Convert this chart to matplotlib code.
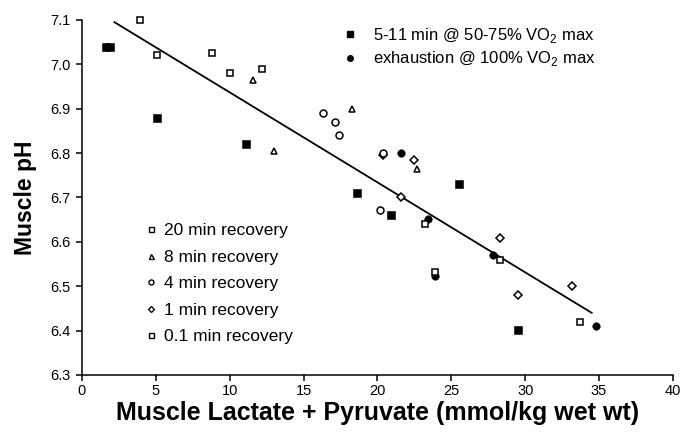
import matplotlib
matplotlib.use("Agg")
import matplotlib.pyplot as plt
from matplotlib.lines import Line2D

plt.rcParams['font.family'] = ['Liberation Sans', 'DejaVu Sans']
plt.rcParams['mathtext.fontset'] = 'custom'
plt.rcParams['mathtext.rm'] = 'Liberation Sans'

# Exercise groups (filled markers)
sub_x = [1.6, 1.9, 5.1, 11.1, 18.6, 20.9, 25.5, 29.5]
sub_y = [7.038, 7.040, 6.880, 6.820, 6.711, 6.660, 6.730, 6.401]
exh_x = [21.6, 23.4, 23.9, 27.8, 34.8]
exh_y = [6.800, 6.651, 6.522, 6.571, 6.410]

# Recovery groups (open markers)
rec20_x = [3.9, 5.1, 8.8, 10.0, 12.2]
rec20_y = [7.099, 7.020, 7.025, 6.980, 6.990]
rec8_x = [11.6, 13.0, 18.3, 22.7]
rec8_y = [6.964, 6.805, 6.900, 6.764]
rec4_x = [16.3, 17.1, 17.4, 20.4, 20.2]
rec4_y = [6.890, 6.869, 6.841, 6.800, 6.671]
rec1_x = [20.4, 22.5, 21.6, 28.3, 29.5, 33.2]
rec1_y = [6.796, 6.785, 6.700, 6.609, 6.480, 6.501]
rec01_x = [23.2, 23.9, 28.3, 33.7]
rec01_y = [6.640, 6.531, 6.560, 6.420]

# Regression line end points
fit_x = [2.2, 34.5]
fit_y = [7.095, 6.440]

x_ticks = [0, 5, 10, 15, 20, 25, 30, 35, 40]
y_ticks = [6.3, 6.4, 6.5, 6.6, 6.7, 6.8, 6.9, 7.0, 7.1]

fig = plt.figure(figsize=(6.83, 4.33), dpi=100)
ax = fig.add_axes([0.12, 0.134, 0.8653, 0.8199])

ax.plot(fit_x, fit_y, color='black', lw=1.3, zorder=2)

open_kw = dict(ls='none', mfc='white', mec='black', mew=1.1, zorder=3, clip_on=False)
fill_kw = dict(ls='none', color='black', mew=0.4, zorder=3, clip_on=False)
ax.plot(rec1_x, rec1_y, marker='D', ms=3.6, **open_kw)
ax.plot(rec4_x, rec4_y, marker='o', ms=5.0, **open_kw)
ax.plot(rec8_x, rec8_y, marker='^', ms=5.0, **open_kw)
ax.plot(sub_x, sub_y, marker='s', ms=5.2, **fill_kw)
ax.plot(exh_x, exh_y, marker='o', ms=5.4, **fill_kw)
ax.plot(rec20_x, rec20_y, marker='s', ms=5.0, **open_kw)
ax.plot(rec01_x, rec01_y, marker='s', ms=5.0, **open_kw)

ax.set_xlim(0, 40)
ax.set_ylim(6.3, 7.1)
ax.set_xticks(x_ticks)
ax.set_xticklabels([str(t) for t in x_ticks])
ax.set_yticks(y_ticks)
ax.set_yticklabels([f"{t:.1f}" for t in y_ticks])
for s in ['top', 'right']:
    ax.spines[s].set_visible(False)
for s in ['left', 'bottom']:
    ax.spines[s].set_linewidth(1.1)
ax.tick_params(direction='out', length=4, width=1.1, labelsize=10.5)
ax.tick_params(axis='y', pad=4)
ax.tick_params(axis='x', pad=2.5)

ax.set_xlabel('Muscle Lactate + Pyruvate (mmol/kg wet wt)', fontsize=18, fontweight='bold')
ax.set_ylabel('Muscle pH', fontsize=16.5, fontweight='bold')
ax.xaxis.set_label_coords(0.5, -0.108)
ax.xaxis.label.set_va('center')
ax.yaxis.set_label_coords(-0.0948, 0.5)
ax.yaxis.label.set_va('center')

h1 = [Line2D([], [], ls='none', marker='s', ms=4, color='black'),
      Line2D([], [], ls='none', marker='o', ms=4, color='black')]
l1 = [r'5-11 min @ 50-75% VO$_{2}$ max', r'exhaustion @ 100% VO$_{2}$ max']
leg1 = fig.legend(h1, l1, loc='upper left', bbox_to_anchor=(0.5003, 0.9395),
                  bbox_transform=fig.transFigure, frameon=False, fontsize=12,
                  borderpad=0, borderaxespad=0, handlelength=1.0,
                  handletextpad=0.88, labelspacing=0.25)

okw = dict(ls='none', mfc='white', mec='black', mew=1.0)
h2 = [Line2D([], [], marker='s', ms=3.6, **okw),
      Line2D([], [], marker='^', ms=3.6, **okw),
      Line2D([], [], marker='o', ms=3.6, **okw),
      Line2D([], [], marker='D', ms=3.0, **okw),
      Line2D([], [], marker='s', ms=3.6, **okw)]
l2 = ['20 min recovery', '8 min recovery', '4 min recovery',
      '1 min recovery', '0.1 min recovery']
leg2 = fig.legend(h2, l2, loc='upper left', bbox_to_anchor=(0.211, 0.485),
                  bbox_transform=fig.transFigure, frameon=False, fontsize=12.5,
                  borderpad=0, borderaxespad=0, handlelength=0.8,
                  handletextpad=0.35, labelspacing=0.655)

fig.savefig('out.png', dpi=100)
